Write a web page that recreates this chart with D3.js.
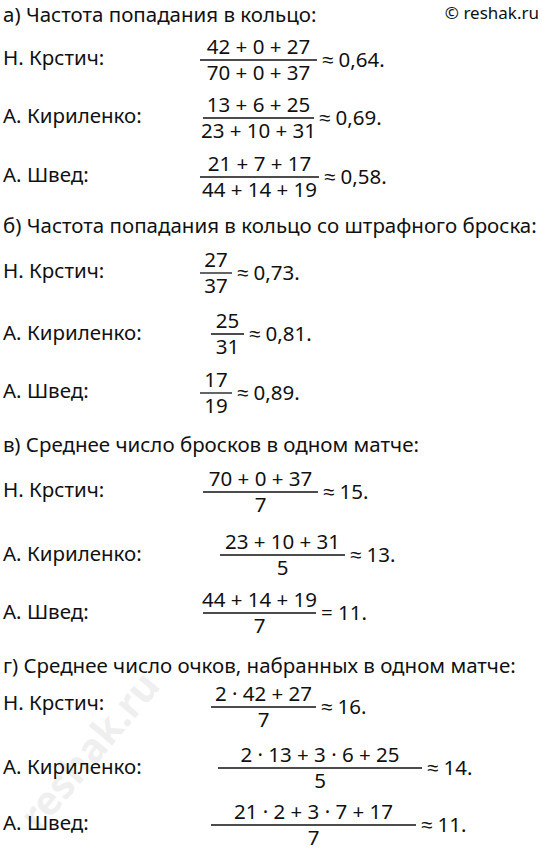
<!DOCTYPE html>
<html><head><meta charset="utf-8">
<script src="https://cdn.jsdelivr.net/npm/d3@7/dist/d3.min.js"></script>
<style>body{margin:0;background:#fff}text{font-family:"Noto Sans",sans-serif;fill:#111}</style>
</head><body><svg id="c" width="542" height="851"></svg>
<script>
const headers = ["а) Частота попадания в кольцо:","б) Частота попадания в кольцо со штрафного броска:","в) Среднее число бросков в одном матче:","г) Среднее число очков, набранных в одном матче:"];
const names = ["Н. Крстич:","А. Кириленко:","А. Швед:"];
const numerators = [
 ["42 + 0 + 27","13 + 6 + 25","21 + 7 + 17"],
 ["27","25","17"],
 ["70 + 0 + 37","23 + 10 + 31","44 + 14 + 19"],
 ["2 · 42 + 27","2 · 13 + 3 · 6 + 25","21 · 2 + 3 · 7 + 17"]];
const denominators = [
 ["70 + 0 + 37","23 + 10 + 31","44 + 14 + 19"],
 ["37","31","19"],
 ["7","5","7"],
 ["7","5","7"]];
const results = [
 ["≈ 0,64.","≈ 0,69.","≈ 0,58."],
 ["≈ 0,73.","≈ 0,81.","≈ 0,89."],
 ["≈ 15.","≈ 13.","= 11."],
 ["≈ 16.","≈ 14.","≈ 11."]];

// layout
const headerY=[22,233,452,673];
const nameY=[[65,123,182],[278,340,398],[497,561,619],[710,774,830]];
const barY=[[60,118,177],[273,334,393],[492,555,613],[707,768,825]];
const barX=[[[200,317],[203,314],[200,319]],[[200,232],[211,244],[200,232]],[[203,318],[220,345],[203,316]],[[211,316],[218,422],[211,416]]];

const svg=d3.select("#c");
const fs=20.5;
svg.append("text").attr("x",539).attr("y",19).attr("text-anchor","end").attr("font-size",17).text("© reshak.ru");
svg.append("text").attr("transform","translate(100,760) rotate(-50)").attr("text-anchor","middle")
  .attr("font-size",40).attr("font-weight","bold").style("fill","#000").style("opacity",0.06).text("reshak.ru");
headers.forEach((h,s)=>{
  svg.append("text").attr("x",3).attr("y",headerY[s]).attr("font-size",fs).text(h);
  names.forEach((n,i)=>{
    svg.append("text").attr("x",3).attr("y",nameY[s][i]).attr("font-size",fs).text(n);
    const [x0,x1]=barX[s][i], by=barY[s][i], cx=(x0+x1)/2;
    svg.append("line").attr("x1",x0).attr("x2",x1).attr("y1",by).attr("y2",by).attr("stroke","#111").attr("stroke-width",1.3);
    svg.append("text").attr("x",cx).attr("y",by-6).attr("text-anchor","middle").attr("font-size",fs).text(numerators[s][i]);
    svg.append("text").attr("x",cx).attr("y",by+20).attr("text-anchor","middle").attr("font-size",fs).text(denominators[s][i]);
    svg.append("text").attr("x",x1+5).attr("y",by+7).attr("font-size",fs).text(results[s][i]);
  });
});
</script></body></html>
